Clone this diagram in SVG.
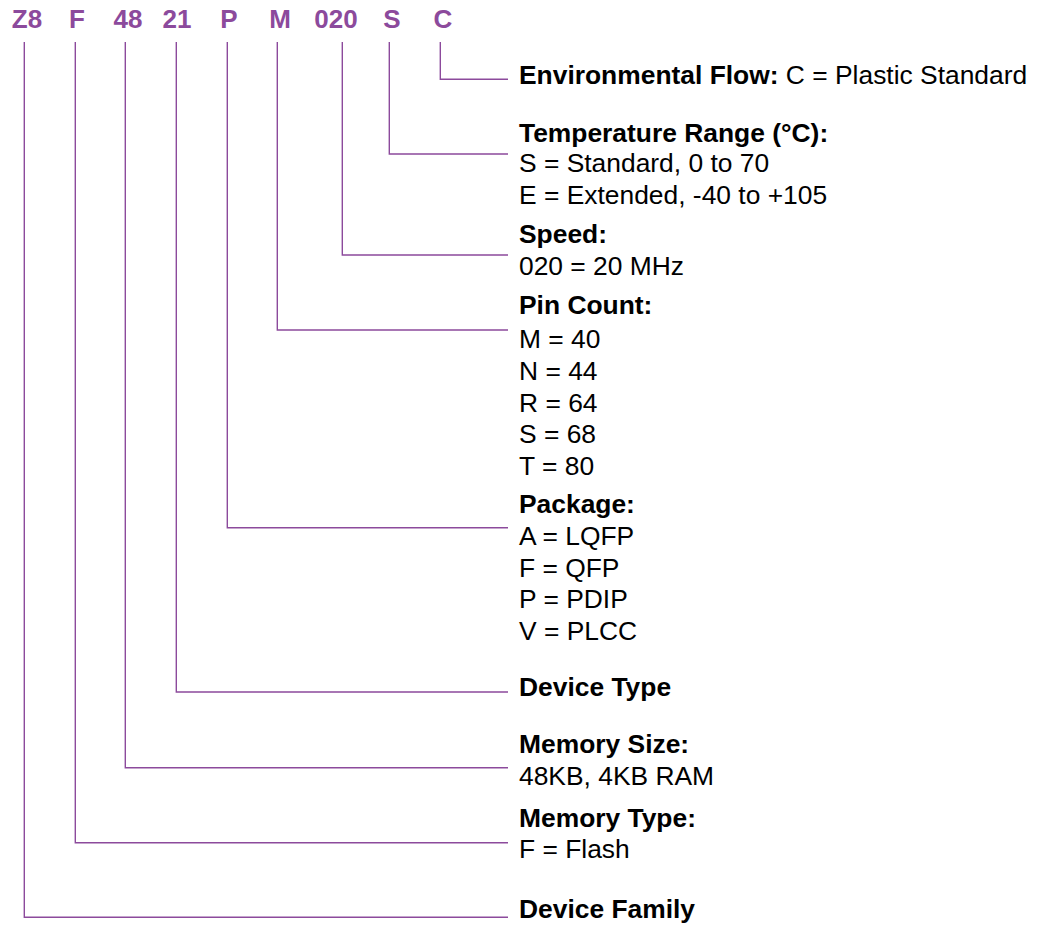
<svg xmlns="http://www.w3.org/2000/svg" width="1039" height="929" viewBox="0 0 1039 929">
<style>
.code{font-family:"Liberation Sans",Arial,sans-serif;font-size:26px;font-weight:bold;fill:#8C4A9C;text-anchor:middle}
.lbl{font-family:"Liberation Sans",Arial,sans-serif;font-size:26.4px;fill:#000}
.b{font-weight:bold}
.conn{fill:none;stroke:#8C4A9C;stroke-width:1.4}
</style>
<rect width="1039" height="929" fill="#fff"/>
<g id="codes">
<text class="code" x="27" y="28">Z8</text>
<text class="code" x="77" y="28">F</text>
<text class="code" x="128" y="28">48</text>
<text class="code" x="177" y="28">21</text>
<text class="code" x="229" y="28">P</text>
<text class="code" x="280" y="28">M</text>
<text class="code" x="336" y="28">020</text>
<text class="code" x="392" y="28">S</text>
<text class="code" x="443" y="28">C</text>
</g>
<g id="connectors">
<polyline class="conn" points="440.3,42 440.3,79.3 508,79.3"/>
<polyline class="conn" points="389.3,42 389.3,154 508,154"/>
<polyline class="conn" points="342.3,42 342.3,255 508,255"/>
<polyline class="conn" points="277.3,42 277.3,330 508,330"/>
<polyline class="conn" points="227.3,42 227.3,527.7 508,527.7"/>
<polyline class="conn" points="176.3,42 176.3,692 508,692"/>
<polyline class="conn" points="125.3,42 125.3,767.7 508,767.7"/>
<polyline class="conn" points="75.3,42 75.3,842.7 508,842.7"/>
<polyline class="conn" points="24.3,42 24.3,917.3 508,917.3"/>
</g>
<g id="env-flow">
<text class="lbl" x="519" y="84"><tspan class="b">Environmental Flow:</tspan> C = Plastic Standard</text>
</g>
<g id="temperature">
<text class="lbl b" x="519" y="141.7">Temperature Range (°C):</text>
<text class="lbl" x="519" y="172">S = Standard, 0 to 70</text>
<text class="lbl" x="519" y="204">E = Extended, -40 to +105</text>
</g>
<g id="speed">
<text class="lbl b" x="519" y="243.3">Speed:</text>
<text class="lbl" x="519" y="275">020 = 20 MHz</text>
</g>
<g id="pin-count">
<text class="lbl b" x="519" y="314">Pin Count:</text>
<text class="lbl" x="519" y="348">M = 40</text>
<text class="lbl" x="519" y="380">N = 44</text>
<text class="lbl" x="519" y="412">R = 64</text>
<text class="lbl" x="519" y="443">S = 68</text>
<text class="lbl" x="519" y="475">T = 80</text>
</g>
<g id="package">
<text class="lbl b" x="519" y="513">Package:</text>
<text class="lbl" x="519" y="545">A = LQFP</text>
<text class="lbl" x="519" y="577">F = QFP</text>
<text class="lbl" x="519" y="608">P = PDIP</text>
<text class="lbl" x="519" y="640">V = PLCC</text>
</g>
<g id="device-type">
<text class="lbl b" x="519" y="696">Device Type</text>
</g>
<g id="memory-size">
<text class="lbl b" x="519" y="753">Memory Size:</text>
<text class="lbl" x="519" y="785">48KB, 4KB RAM</text>
</g>
<g id="memory-type">
<text class="lbl b" x="519" y="827">Memory Type:</text>
<text class="lbl" x="519" y="858">F = Flash</text>
</g>
<g id="device-family">
<text class="lbl b" x="519" y="917.7">Device Family</text>
</g>
</svg>
